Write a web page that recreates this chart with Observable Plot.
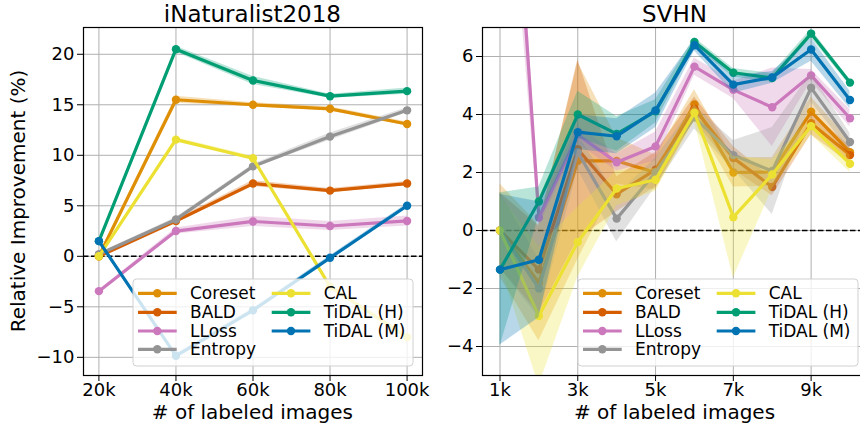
<!DOCTYPE html>
<html><head><meta charset="utf-8">
<script src="https://cdn.jsdelivr.net/npm/d3@7"></script>
<script src="https://cdn.jsdelivr.net/npm/@observablehq/plot@0.6"></script>
<style>
body{margin:0;background:#fff;}
#wrap{position:relative;width:860px;height:429px;overflow:hidden;background:#fff;font-family:"DejaVu Sans",sans-serif;}
#wrap svg{position:absolute;top:0;}
</style>
</head><body><div id="wrap"></div>
<script>
// ---------- shared ----------
const methods = ["Coreset","BALD","LLoss","Entropy","CAL","TiDAL (H)","TiDAL (M)"];
const colors  = ["#DE8F05","#D55E00","#CC78BC","#949494","#ECE133","#029E73","#0173B2"];
const titles = ["iNaturalist2018","SVHN"];
const xLabel = "# of labeled images";
const yLabel = "Relative Improvement (%)";

// ---------- iNaturalist2018 ----------
const inatSizes = [20000,40000,60000,80000,100000];
const inatTickLabels = ["20k","40k","60k","80k","100k"];
const inatYTicks = [-10,-5,0,5,10,15,20];
const inatCoreset = [0, 15.5, 15.0, 14.6, 13.1];
const inatBALD    = [0, 3.5, 7.2, 6.5, 7.2];
const inatLLoss   = [-3.45, 2.5, 3.45, 3.0, 3.5];
const inatEntropy = [0.2, 3.65, 8.9, 11.85, 14.45];
const inatCAL     = [0, 11.55, 9.7, -3.0, -8.0];
const inatTidalH  = [1.5, 20.5, 17.4, 15.85, 16.35];
const inatTidalM  = [1.5, -9.85, -5.35, -0.15, 5.0];
const inatCoresetStd = [0.1, 0.35, 0.2, 0.2, 0.2];
const inatBALDStd    = [0.1, 0.2, 0.3, 0.2, 0.2];
const inatLLossStd   = [0.1, 0.3, 0.5, 0.45, 0.5];
const inatEntropyStd = [0.1, 0.2, 0.2, 0.35, 0.25];
const inatCALStd     = [0.1, 0.2, 0.2, 0.2, 0.2];
const inatTidalHStd  = [0.1, 0.3, 0.4, 0.2, 0.3];
const inatTidalMStd  = [0.1, 0.2, 0.2, 0.2, 0.2];

// ---------- SVHN ----------
const svhnSizes = [1000,2000,3000,4000,5000,6000,7000,8000,9000,10000];
const svhnTicks = [1000,3000,5000,7000,9000];
const svhnTickLabels = ["1k","3k","5k","7k","9k"];
const svhnYTicks = [-4,-2,0,2,4,6];
const svhnCoreset = [0, -1.8, 2.4, 2.4, 2.0, 4.35, 2.0, 2.02, 4.1, 2.7];
const svhnBALD    = [0, -1.35, 2.8, 1.25, 2.1, 4.2, 2.5, 1.5, 3.7, 2.6];
const svhnLLoss   = [20.0, 0.45, 3.3, 2.35, 2.9, 5.65, 4.85, 4.25, 5.35, 3.87];
const svhnEntropy = [0, -2.0, 2.7, 0.41, 2.0, 3.9, 2.6, 2.05, 4.92, 3.05];
const svhnCAL     = [0, -2.95, -0.4, 1.45, 1.75, 4.06, 0.46, 1.93, 3.6, 2.3];
const svhnTidalH  = [-1.35, 1.0, 4.0, 3.33, 4.11, 6.5, 5.44, 5.26, 6.79, 5.1];
const svhnTidalM  = [-1.35, -1.01, 3.39, 3.25, 4.14, 6.39, 5.03, 5.28, 6.24, 4.5];
const svhnCoresetStd = [1.6, 2.0, 3.4, 0.8, 0.6, 0.5, 0.5, 0.5, 0.5, 0.4];
const svhnBALDStd    = [1.3, 1.5, 3.1, 0.6, 0.6, 0.4, 0.4, 0.3, 0.4, 0.3];
const svhnLLossStd   = [3.5, 0.3, 0.3, 0.3, 0.5, 0.3, 0.3, 1.35, 0.2, 0.3];
const svhnEntropyStd = [1.3, 1.0, 0.6, 0.8, 0.5, 0.4, 0.5, 1.5, 0.5, 0.3];
const svhnCALStd     = [1.2, 2.4, 1.2, 0.6, 0.4, 0.3, 2.1, 0.5, 0.3, 0.3];
const svhnTidalHStd  = [2.65, 0.5, 0.8, 0.6, 0.4, 0.15, 0.15, 0.15, 0.15, 0.1];
const svhnTidalMStd  = [2.6, 2.0, 0.6, 0.6, 0.6, 0.2, 0.3, 0.2, 0.4, 0.3];

function tidy(sizes, means, stds) {
  const rows = [];
  methods.forEach((m, i) => {
    sizes.forEach((x, j) => {
      rows.push({method: m, x, y: means[i][j], lo: means[i][j] - stds[i][j], hi: means[i][j] + stds[i][j]});
    });
  });
  return rows;
}
const inatRows = tidy(inatSizes,
  [inatCoreset, inatBALD, inatLLoss, inatEntropy, inatCAL, inatTidalH, inatTidalM],
  [inatCoresetStd, inatBALDStd, inatLLossStd, inatEntropyStd, inatCALStd, inatTidalHStd, inatTidalMStd]);
const svhnRows = tidy(svhnSizes,
  [svhnCoreset, svhnBALD, svhnLLoss, svhnEntropy, svhnCAL, svhnTidalH, svhnTidalM],
  [svhnCoresetStd, svhnBALDStd, svhnLLossStd, svhnEntropyStd, svhnCALStd, svhnTidalHStd, svhnTidalMStd]);

function panel({rows, width, marginLeft, marginRight, xDomain, xTicks, xTickLabels, yDomain, yTicks}) {
  const marks = [
    Plot.gridX(xTicks, {stroke: "#b0b0b0", strokeOpacity: 1, strokeWidth: 1}),
    Plot.gridY(yTicks, {stroke: "#b0b0b0", strokeOpacity: 1, strokeWidth: 1}),
    Plot.ruleY([0], {stroke: "#000", strokeWidth: 1.4, strokeDasharray: "5.5,2.5"})
  ];
  for (const m of methods) {
    const d = rows.filter(r => r.method === m);
    marks.push(Plot.areaY(d, {x: "x", y1: "lo", y2: "hi", fill: "method", fillOpacity: 0.28, clip: true}));
    marks.push(Plot.line(d, {x: "x", y: "y", stroke: "method", strokeWidth: 3.2, clip: true}));
    marks.push(Plot.dot(d, {x: "x", y: "y", fill: "method", r: 4.2, clip: true}));
  }
  marks.push(Plot.frame({stroke: "#000", strokeWidth: 1.2}));
  marks.push(Plot.axisX(xTicks, {tickFormat: (d) => xTickLabels[xTicks.indexOf(d)], tickSize: 6, tickPadding: 2, label: null}));
  marks.push(Plot.axisY(yTicks, {tickSize: 6, tickPadding: 3, label: null}));
  return Plot.plot({
    width, height: 429,
    marginLeft, marginRight, marginTop: 27, marginBottom: 54,
    x: {domain: xDomain},
    y: {domain: yDomain},
    color: {domain: methods, range: colors},
    style: {fontFamily: "DejaVu Sans", fontSize: "18px", background: "transparent", color: "#000"},
    marks
  });
}

const wrap = document.getElementById("wrap");
const left = panel({rows: inatRows, width: 430, marginLeft: 83, marginRight: 8,
  xDomain: [16000, 104000], xTicks: inatSizes, xTickLabels: inatTickLabels,
  yDomain: [-11.8, 22.65], yTicks: inatYTicks});
left.style.left = "0px";
wrap.appendChild(left);
const right = panel({rows: svhnRows, width: 450, marginLeft: 52, marginRight: 13,
  xDomain: [550, 10450], xTicks: svhnTicks, xTickLabels: svhnTickLabels,
  yDomain: [-5, 7], yTicks: svhnYTicks});
right.style.left = "430px";
wrap.appendChild(right);

// ---------- overlay: titles, axis labels, legends ----------
const ov = d3.select(wrap).append("svg")
  .attr("width", 860).attr("height", 429).style("left", "0px")
  .style("font-family", "DejaVu Sans");
const centers = [252.4, 674.5];
titles.forEach((t, i) => {
  ov.append("text").attr("x", centers[i]).attr("y", 22).attr("text-anchor", "middle")
    .attr("font-size", 23).text(t);
  ov.append("text").attr("x", centers[i]).attr("y", 419).attr("text-anchor", "middle")
    .attr("font-size", 20).text(xLabel);
});
ov.append("text").attr("transform", "translate(24.5,201) rotate(-90)")
  .attr("text-anchor", "middle").attr("font-size", 20).text(yLabel);

function legend(x0, y0, w, h) {
  const g = ov.append("g");
  g.append("rect").attr("x", x0).attr("y", y0).attr("width", w).attr("height", h)
    .attr("rx", 3.5).attr("fill", "#fff").attr("fill-opacity", 0.8)
    .attr("stroke", "#d0d0d0").attr("stroke-width", 1);
  const rowY = [14.3, 33.3, 52, 70.3];
  methods.forEach((m, i) => {
    const col = i < 4 ? 0 : 1;
    const row = i < 4 ? i : i - 4;
    const hx = x0 + 5 + col * 133.7;
    const cy = y0 + rowY[row];
    g.append("line").attr("x1", hx).attr("x2", hx + 38.7).attr("y1", cy).attr("y2", cy)
      .attr("stroke", colors[i]).attr("stroke-width", 3.2);
    g.append("circle").attr("cx", hx + 19.3).attr("cy", cy).attr("r", 4.2).attr("fill", colors[i]);
    g.append("text").attr("x", hx + 52).attr("y", cy).attr("dy", "0.36em")
      .attr("font-size", 17).text(m);
  });
}
legend(133, 279, 280, 87);
legend(578, 279, 280, 87);
</script>
</body></html>
